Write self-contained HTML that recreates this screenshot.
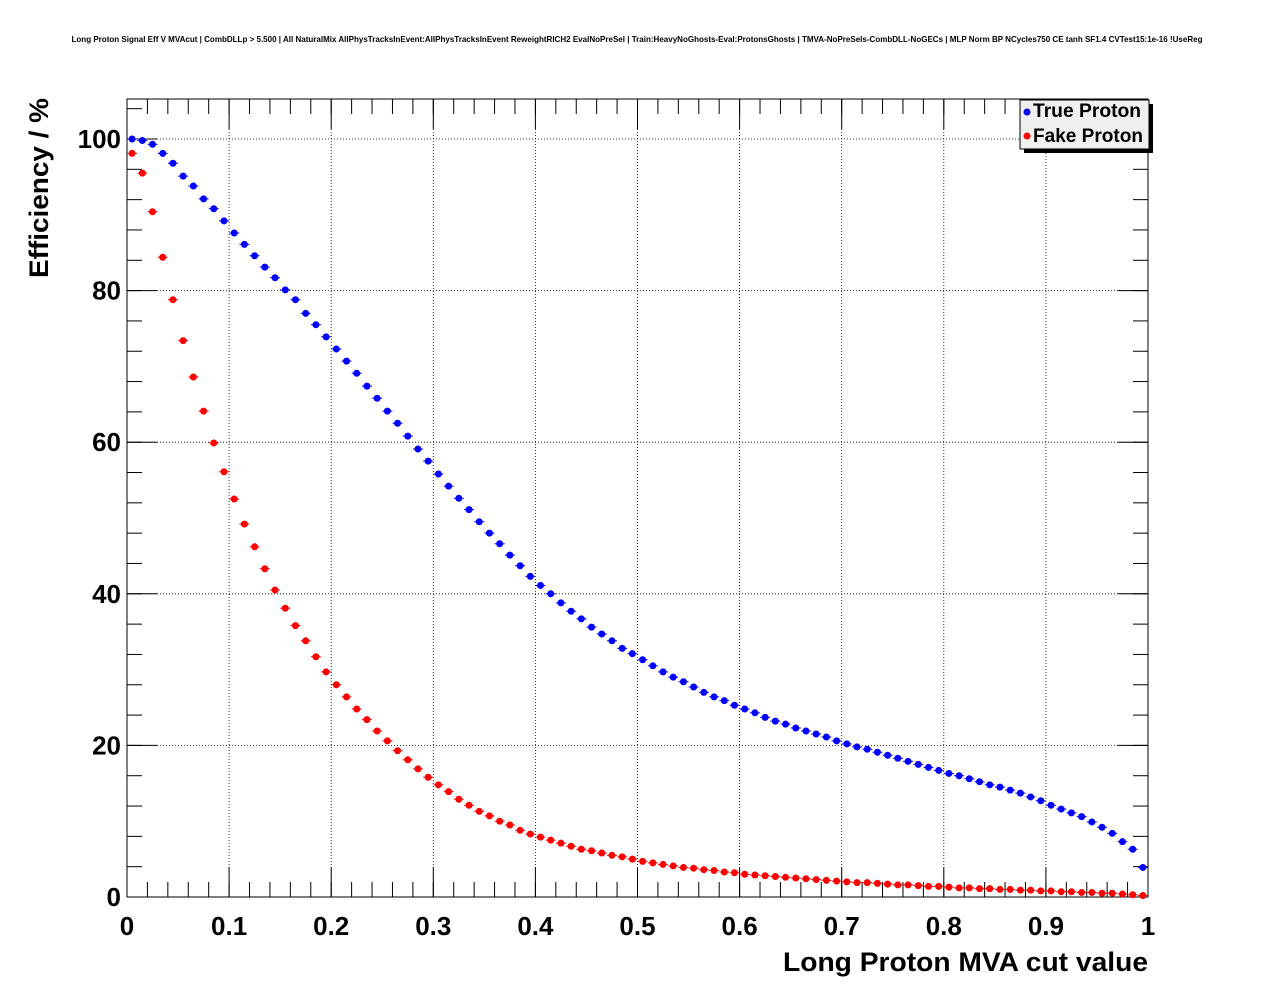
<!DOCTYPE html>
<html><head><meta charset="utf-8"><style>
body{margin:0;background:#fff;}
svg{display:block;font-family:"Liberation Sans",sans-serif;}
</style></head><body>
<svg id="c" width="1276" height="996">
<text x="637" y="42" font-size="8.1" font-weight="bold" text-anchor="middle" textLength="1131" lengthAdjust="spacingAndGlyphs">Long Proton Signal Eff V MVAcut | CombDLLp &gt; 5.500 | All NaturalMix AllPhysTracksInEvent:AllPhysTracksInEvent ReweightRICH2 EvalNoPreSel | Train:HeavyNoGhosts-Eval:ProtonsGhosts | TMVA-NoPreSels-CombDLL-NoGECs | MLP Norm BP NCycles750 CE tanh SF1.4 CVTest15:1e-16 !UseReg</text>
<g id="grid"></g><g id="axes"></g><g id="marks"></g>
<text x="1148" y="971" font-size="27" font-weight="bold" text-anchor="end" textLength="365" lengthAdjust="spacingAndGlyphs">Long Proton MVA cut value</text>
<text transform="translate(48,278) rotate(-90)" font-size="27" font-weight="bold" textLength="180" lengthAdjust="spacingAndGlyphs">Efficiency / %</text>
<g>
<rect x="1024" y="104" width="129" height="49" fill="#000"/>
<rect x="1020" y="100" width="129" height="49" fill="#f0f0f0" stroke="#000" stroke-width="1"/>
<circle cx="1027" cy="112" r="3.5" fill="#00f"/>
<text x="1033" y="117" font-size="19" font-weight="bold" textLength="108" lengthAdjust="spacingAndGlyphs">True Proton</text>
<circle cx="1027" cy="136" r="3.5" fill="#f00"/>
<text x="1033" y="142" font-size="19" font-weight="bold" textLength="110" lengthAdjust="spacingAndGlyphs">Fake Proton</text>
</g>
</svg>
<script>
const xTicks=[0,0.1,0.2,0.3,0.4,0.5,0.6,0.7,0.8,0.9,1];
const xTickLabels=["0","0.1","0.2","0.3","0.4","0.5","0.6","0.7","0.8","0.9","1"];
const yTicks=[0,20,40,60,80,100];
const trueProton=[100,99.8,99.3,98.1,96.8,95.1,93.8,92.1,90.8,89.2,87.6,86.1,84.6,83.1,81.7,80.1,78.8,77.0,75.5,73.9,72.3,70.7,69.1,67.4,65.8,64.1,62.5,60.8,59.1,57.5,55.8,54.2,52.6,51.1,49.5,48.0,46.6,45.1,43.7,42.3,41.1,40.0,38.8,37.7,36.7,35.6,34.7,33.8,32.8,32.1,31.3,30.5,29.7,29.0,28.4,27.7,27.0,26.4,25.9,25.3,24.8,24.3,23.7,23.2,22.8,22.3,21.9,21.5,21.1,20.6,20.2,19.8,19.5,19.1,18.7,18.3,17.9,17.5,17.1,16.7,16.3,16.0,15.6,15.2,14.8,14.5,14.1,13.7,13.2,12.7,12.1,11.6,11.1,10.6,9.9,9.2,8.4,7.3,6.3,3.9];
const fakeProton=[98.1,95.5,90.4,84.4,78.8,73.4,68.6,64.1,59.9,56.1,52.5,49.2,46.2,43.3,40.5,38.1,35.8,33.8,31.7,29.7,28.0,26.4,24.8,23.4,21.9,20.6,19.3,18.1,16.9,15.8,14.8,13.9,12.9,12.1,11.3,10.7,10.0,9.5,8.8,8.3,7.9,7.5,7.1,6.7,6.3,6.1,5.8,5.5,5.3,5.0,4.7,4.5,4.3,4.1,3.9,3.8,3.6,3.5,3.3,3.2,3.0,2.9,2.8,2.7,2.6,2.5,2.4,2.3,2.2,2.1,2.0,1.9,1.9,1.8,1.7,1.6,1.6,1.5,1.4,1.4,1.3,1.2,1.2,1.1,1.1,1.0,1.0,0.9,0.9,0.8,0.8,0.7,0.7,0.6,0.6,0.5,0.5,0.4,0.3,0.2];
const X0=127,X1=1148,Y0=897,YT=99;
const sx=v=>X0+(X1-X0)*v;
const sy=v=>Y0-(Y0-139)/100*v;
const NS="http://www.w3.org/2000/svg";
function mk(tag,attrs,parent){const e=document.createElementNS(NS,tag);for(const k in attrs)e.setAttribute(k,attrs[k]);parent.appendChild(e);return e;}
const grid=document.getElementById('grid'),axes=document.getElementById('axes'),marks=document.getElementById('marks');
const frame=mk('rect',{x:X0,y:YT,width:X1-X0,height:Y0-YT,fill:'none',stroke:'#000','stroke-width':1},axes);


xTicks.forEach((t,i)=>{const x=sx(t);
 if(i>0&&i<xTicks.length-1){const g=mk('line',{x1:x,x2:x,y1:YT,y2:Y0,stroke:'#000','stroke-dasharray':'1,2','stroke-width':0.8},grid);
 
 }
 mk('line',{x1:x,x2:x,y1:Y0,y2:Y0-30,stroke:'#000'},axes);
 mk('line',{x1:x,x2:x,y1:YT,y2:YT+30,stroke:'#000'},axes);
 const tx=mk('text',{x:x,y:935,'font-size':26,'font-weight':'bold','text-anchor':'middle'},axes);tx.textContent=xTickLabels[i];
 
 
});
for(let k=0;k<50;k++){const x=sx(k/50);mk('line',{x1:x,x2:x,y1:Y0,y2:Y0-15,stroke:'#000'},axes);mk('line',{x1:x,x2:x,y1:YT,y2:YT+15,stroke:'#000'},axes);}
yTicks.forEach(t=>{const y=sy(t);
 if(t>0){const g=mk('line',{x1:X0,x2:X1,y1:y,y2:y,stroke:'#000','stroke-dasharray':'1,2','stroke-width':0.8},grid);
 
 }
 mk('line',{x1:X0,x2:X0+30,y1:y,y2:y,stroke:'#000'},axes);
 mk('line',{x1:X1,x2:X1-30,y1:y,y2:y,stroke:'#000'},axes);
 const tx=mk('text',{x:121,y:y+9,'font-size':26,'font-weight':'bold','text-anchor':'end'},axes);tx.textContent=String(t);
 
 
});
for(let v=0;v<=105;v+=4){mk('line',{x1:X0,x2:X0+15,y1:sy(v),y2:sy(v),stroke:'#000'},axes);mk('line',{x1:X1,x2:X1-15,y1:sy(v),y2:sy(v),stroke:'#000'},axes);}
function series(vals,color,name){vals.forEach((v,i)=>{const x=sx((i+0.5)/vals.length),y=sy(v);
 mk('line',{x1:x-5,x2:x+5,y1:y,y2:y,stroke:color,'stroke-width':1},marks);
 const c=mk('circle',{cx:x,cy:y,r:3.5,fill:color},marks);
 
 });}
series(trueProton,'#00f','true-proton-point');
series(fakeProton,'#f00','fake-proton-point');
</script>
</body></html>
